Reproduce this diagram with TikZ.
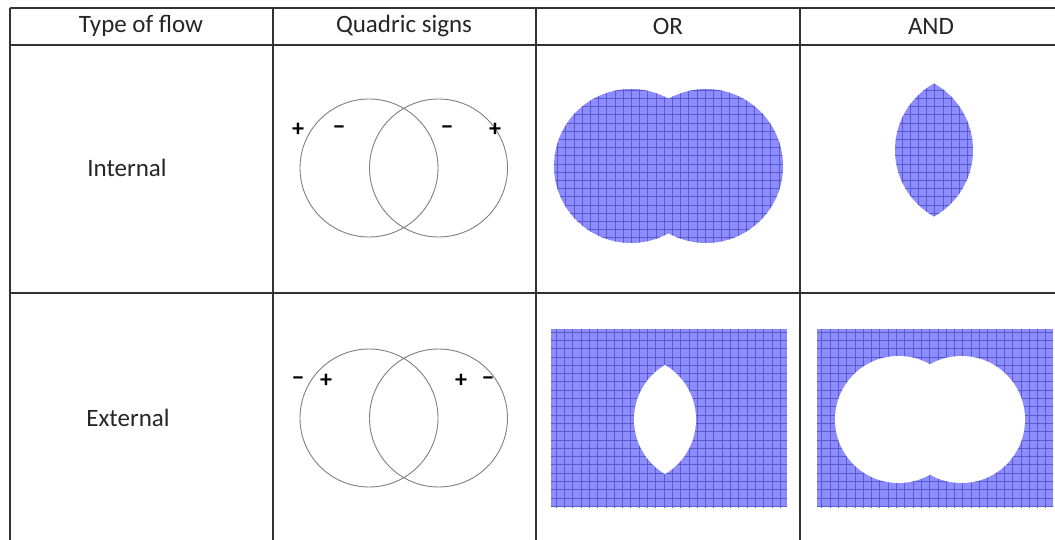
\documentclass[tikz,border=0pt]{standalone}
\usepackage{fontspec}
\setmainfont{Carlito}
\definecolor{regionblue}{RGB}{140,140,255}
\definecolor{gridblue}{RGB}{90,90,205}
\definecolor{rulegray}{RGB}{50,50,50}
\begin{document}
\begin{tikzpicture}[x=1pt,y=-1pt,
  tablerule/.style={draw=rulegray, line width=1.5pt},
  quadcircle/.style={draw=black!50, line width=0.9pt},
  gridlines/.style={draw=gridblue, line width=0.8pt},
  celltext/.style={font=\fontsize{25}{28}\selectfont, text=black!85, inner sep=0pt},
  signtext/.style={font=\fontsize{24}{26}\selectfont\bfseries, inner sep=0pt}]
\useasboundingbox (0,0) rectangle (1055,540);
\fill[white] (0,0) rectangle (1055,540);

% ---------- Internal / OR : union of two circles ----------
\fill[regionblue] (631,166) circle (77pt) (706,166) circle (77pt);
\begin{scope}
  \clip (631,166) circle (77pt) (706,166) circle (77pt);
  \draw[gridlines] (550,85) grid[step=8.2pt] (790,250);
\end{scope}

% ---------- Internal / AND : lens ----------
\begin{scope}
  \clip (896.8,150) circle (76.2pt);
  \clip (971.2,150) circle (76.2pt);
  \fill[regionblue] (890,80) rectangle (980,220);
  \draw[gridlines] (890,80) grid[step=8.2pt] (980,220);
\end{scope}

% ---------- External / OR : rectangle minus lens ----------
\fill[regionblue] (551,329) rectangle (787,507);
\begin{scope}
  \clip (551,329) rectangle (787,507);
  \draw[gridlines] (545,325) grid[step=8.3pt] (795,512);
\end{scope}
\begin{scope}
  \clip (632.6,419.5) circle (63.4pt);
  \fill[white] (697.4,419.5) circle (63.4pt);
\end{scope}

% ---------- External / AND : rectangle minus union ----------
\fill[regionblue] (817,329) rectangle (1053,507);
\begin{scope}
  \clip (817,329) rectangle (1053,507);
  \draw[gridlines] (810,325) grid[step=8.3pt] (1060,512);
\end{scope}
\fill[white] (898.5,419.5) circle (63.5pt) (961.5,419.5) circle (63.5pt);

% ---------- Quadric circles ----------
\draw[quadcircle] (369,168) circle (69pt) (438.5,168) circle (69pt);
\draw[quadcircle] (369,418) circle (69pt) (438.5,418) circle (69pt);

\node[signtext] (s1) at (298,130) {+};
\node[signtext] (s2) at (339,130) {−};
\node[signtext] (s3) at (447,130) {−};
\node[signtext] (s4) at (495,130) {+};
\node[signtext] (s5) at (298,381) {−};
\node[signtext] (s6) at (326,381) {+};
\node[signtext] (s7) at (461,381) {+};
\node[signtext] (s8) at (488,381) {−};

% ---------- Table rules ----------
\draw[tablerule] (10,8) -- (1055,8);
\draw[tablerule] (10,45) -- (1055,45);
\draw[tablerule] (10,293) -- (1055,293);
\draw[tablerule] (10,8) -- (10,540);
\draw[tablerule] (273,8) -- (273,540);
\draw[tablerule] (536,8) -- (536,540);
\draw[tablerule] (800,8) -- (800,540);

% ---------- Texts ----------
\node[celltext] (h1) at (141,26) {Type of flow};
\node[celltext] (h2) at (404,26) {Quadric signs};
\node[celltext] (h3) at (668,26) {OR};
\node[celltext] (h4) at (931,26) {AND};
\node[celltext] (r1) at (127,168) {Internal};
\node[celltext] (r2) at (128,418) {External};
\end{tikzpicture}
\end{document}
